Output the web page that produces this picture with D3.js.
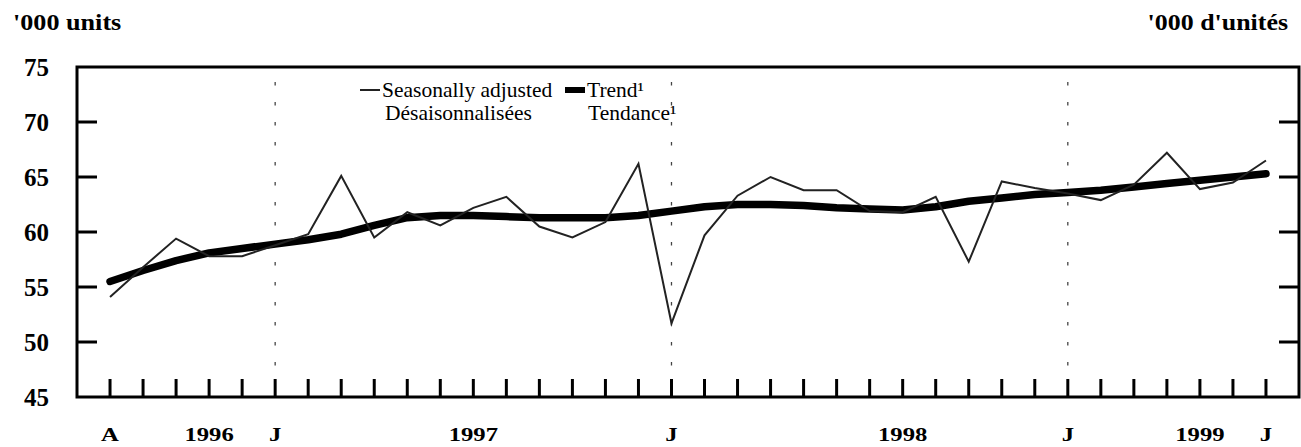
<!DOCTYPE html>
<html>
<head>
<meta charset="utf-8">
<script src="https://cdn.jsdelivr.net/npm/d3@7/dist/d3.min.js"></script>
<style>
  html, body { margin: 0; padding: 0; background: #fff; }
  svg { display: block; }
</style>
</head>
<body>
<svg id="chart" width="1301" height="447"></svg>
<script>
// ---- Data ----
const months = d3.range(36); // monthly observations, index 0 = first "A" month
const seasonallyAdjusted = [
  54.1, 56.8, 59.4, 57.8, 57.8, 58.8, 59.8, 65.1, 59.5, 61.8, 60.6, 62.2,
  63.2, 60.5, 59.5, 60.9, 66.2, 51.7, 59.7, 63.3, 65.0, 63.8, 63.8, 61.9,
  61.8, 63.2, 57.3, 64.6, 64.0, 63.5, 62.9, 64.3, 67.2, 63.9, 64.5, 66.5
];
const trend = [
  55.5, 56.5, 57.4, 58.1, 58.5, 58.9, 59.3, 59.8, 60.6, 61.3, 61.5, 61.5,
  61.4, 61.3, 61.3, 61.3, 61.5, 61.9, 62.3, 62.5, 62.5, 62.4, 62.2, 62.1,
  62.0, 62.3, 62.8, 63.1, 63.4, 63.6, 63.8, 64.1, 64.4, 64.7, 65.0, 65.3
];
const yTicks = [45, 50, 55, 60, 65, 70, 75];
const xLabelText = ["A", "1996", "J", "1997", "J", "1998", "J", "1999", "J"];
const xLabelMonth = [0, 3, 5, 11, 17, 24, 29, 33, 35];
const yearStartMonths = [5, 17, 29];
const seriesNames = [["Seasonally adjusted", "Désaisonnalisées"], ["Trend\u00B9", "Tendance\u00B9"]];
const unitLeft = "'000 units";
const unitRight = "'000 d'unités";

// ---- Layout ----
const FONT = "'Liberation Serif', 'Times New Roman', Times, 'DejaVu Serif', serif";
const svg = d3.select("#chart");
const L = 77, R = 1299, T = 67, B = 397;
const x = d3.scaleLinear().domain([-1, 36]).range([L, R]);
const y = d3.scaleLinear().domain([45, 75]).range([B, T]);

// unit titles
svg.append("text")
  .attr("font-family", FONT).attr("font-size", 24).attr("font-weight", "bold")
  .attr("transform", "translate(13,29.5) scale(1.09,1)")
  .text(unitLeft);
svg.append("text")
  .attr("text-anchor", "end")
  .attr("font-family", FONT).attr("font-size", 24).attr("font-weight", "bold")
  .attr("transform", "translate(1288,29.5) scale(1.08,1)")
  .text(unitRight);

// year-start dotted lines
svg.append("g").selectAll("line").data(yearStartMonths).join("line")
  .attr("x1", d => x(d)).attr("x2", d => x(d))
  .attr("y1", T).attr("y2", B)
  .attr("stroke", "#444").attr("stroke-width", 1.3)
  .attr("stroke-dasharray", "3.5 16.5").attr("stroke-dashoffset", 5);

// y ticks (left and right, inward)
const inner = yTicks.filter(v => v > 45 && v < 75);
svg.append("g").selectAll("line").data(inner).join("line")
  .attr("x1", L).attr("x2", L + 20).attr("y1", d => y(d)).attr("y2", d => y(d))
  .attr("stroke", "#000").attr("stroke-width", 3);
svg.append("g").selectAll("line").data(inner).join("line")
  .attr("x1", R - 20).attr("x2", R).attr("y1", d => y(d)).attr("y2", d => y(d))
  .attr("stroke", "#000").attr("stroke-width", 3);

// y labels
svg.append("g").selectAll("text").data(yTicks).join("text")
  .attr("font-family", FONT)
  .attr("x", 49).attr("y", d => y(d) + 9)
  .attr("text-anchor", "end").attr("font-size", 25).attr("font-weight", "bold")
  .text(d => d);

// x ticks
svg.append("g").selectAll("line").data(months).join("line")
  .attr("x1", d => x(d)).attr("x2", d => x(d))
  .attr("y1", B).attr("y2", B - 18)
  .attr("stroke", "#000").attr("stroke-width", 3);

// x labels
svg.append("g").selectAll("text").data(xLabelText).join("text")
  .attr("font-family", FONT)
  .attr("text-anchor", "middle").attr("font-size", 19).attr("font-weight", "bold")
  .attr("transform", (d, i) => `translate(${x(xLabelMonth[i])},441) scale(1.3,1)`)
  .text(d => d);

// frame
svg.append("rect").attr("x", L).attr("y", T).attr("width", R - L).attr("height", B - T)
  .attr("fill", "none").attr("stroke", "#000").attr("stroke-width", 3);

// lines
const line = d3.line().x((d, i) => x(months[i])).y(d => y(d));
svg.append("path").datum(trend).attr("d", line)
  .attr("fill", "none").attr("stroke", "#000").attr("stroke-width", 7.5)
  .attr("stroke-linecap", "round").attr("stroke-linejoin", "round");
svg.append("path").datum(seasonallyAdjusted).attr("d", line)
  .attr("fill", "none").attr("stroke", "#222").attr("stroke-width", 2)
  .attr("stroke-linejoin", "miter");

// legend
const lg = svg.append("g").attr("font-family", FONT).attr("font-size", 21.5);
lg.append("line").attr("x1", 360).attr("x2", 380).attr("y1", 90).attr("y2", 90)
  .attr("stroke", "#222").attr("stroke-width", 2);
lg.append("text").attr("x", 382).attr("y", 97).text(seriesNames[0][0]);
lg.append("text").attr("x", 385).attr("y", 120).text(seriesNames[0][1]);
lg.append("line").attr("x1", 565).attr("x2", 585).attr("y1", 90).attr("y2", 90)
  .attr("stroke", "#000").attr("stroke-width", 6);
lg.append("text").attr("x", 587).attr("y", 97).text(seriesNames[1][0]);
lg.append("text").attr("x", 588).attr("y", 120).text(seriesNames[1][1]);
</script>
</body>
</html>
